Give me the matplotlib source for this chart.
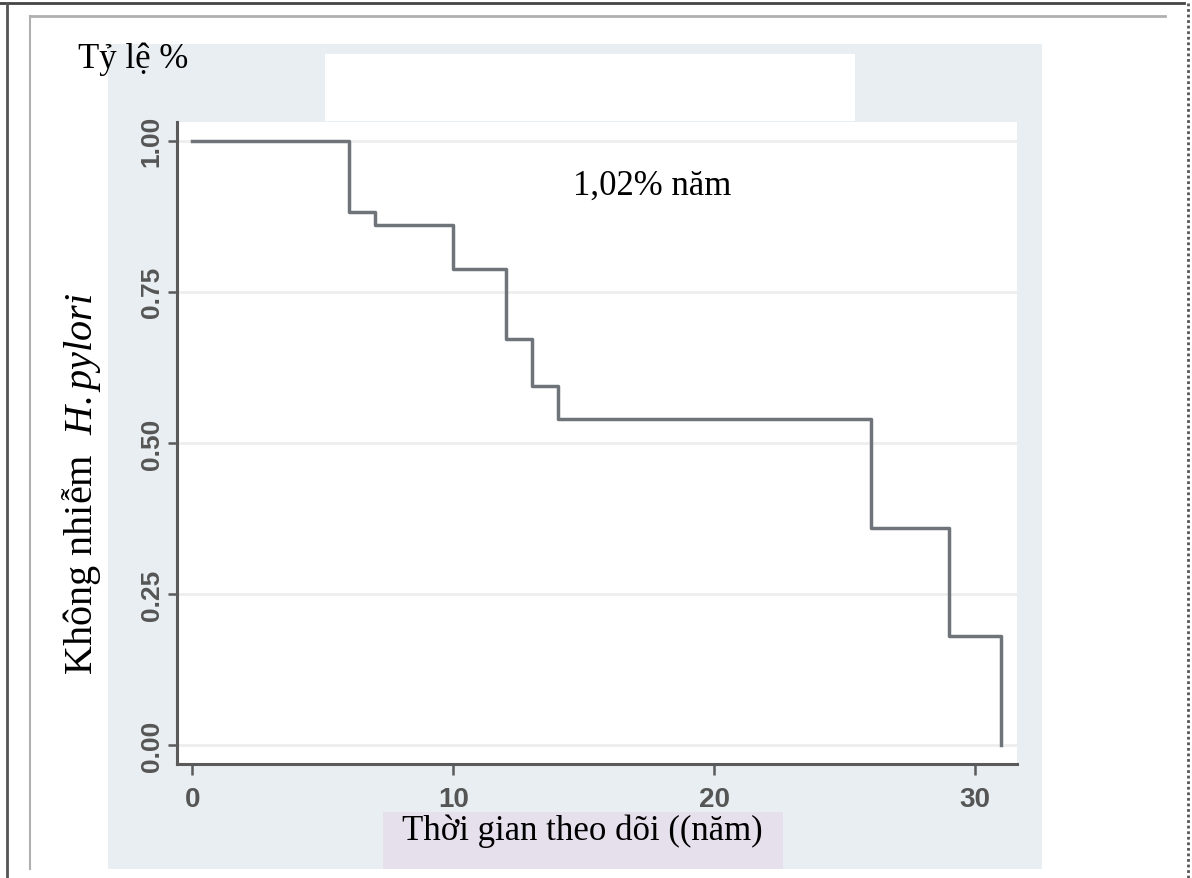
import matplotlib
matplotlib.use('Agg')
import matplotlib.pyplot as plt
import matplotlib.patches as mpatches
from matplotlib.lines import Line2D

# Kaplan-Meier style curve
TIMES = [0, 6, 7, 10, 12, 13, 14, 26, 29, 31]
SURV = [1.00, 0.882, 0.861, 0.788, 0.672, 0.594, 0.540, 0.360, 0.180, 0.00]

X_TICKS = [0, 10, 20, 30]
Y_TICKS = [0.00, 0.25, 0.50, 0.75, 1.00]
Y_TICK_LABELS = ['0.00', '0.25', '0.50', '0.75', '1.00']

TITLE_LEFT = 'Tỷ lệ %'
RATE_TEXT = '1,02% năm'
X_LABEL = 'Thời gian theo dõi ((năm)'
Y_LABEL = r'Không nhiễm  $\mathit{H.pylori}$'

W, H = 1192, 879
SERIF = 'Liberation Serif'
TICK_FONT = 'Liberation Sans'


def fx(px):
    return px / W


def fy(py):
    return 1 - py / H


def rect(fig, x0, y0, x1, y1, color, z=0):
    fig.add_artist(mpatches.Rectangle(
        (fx(x0), fy(y1)), fx(x1) - fx(x0), fy(y0) - fy(y1),
        transform=fig.transFigure, facecolor=color, edgecolor='none', zorder=z))


def line(fig, x0, y0, x1, y1, color, lw, ls='-'):
    fig.add_artist(Line2D([fx(x0), fx(x1)], [fy(y0), fy(y1)],
                          transform=fig.transFigure, color=color, lw=lw, ls=ls))


plt.rcParams['mathtext.fontset'] = 'custom'
plt.rcParams['mathtext.it'] = 'Liberation Serif:italic'
plt.rcParams['mathtext.rm'] = 'Liberation Serif'

fig = plt.figure(figsize=(W / 100, H / 100), dpi=100, facecolor='white')

# page frame
line(fig, 0, 4, 1184, 4, '#444444', 2.0)
line(fig, 7, 4, 7, 879, '#555555', 2.0)
line(fig, 1188, 4, 1188, 879, '#555555', 2.0, ls=(0, (1, 1)))
line(fig, 30, 17, 1165, 17, '#b0b0b0', 2.0)
line(fig, 30, 17, 30, 870, '#b0b0b0', 1.5)

# backgrounds
rect(fig, 108, 45, 1042, 870, '#e8eef1', z=0)
rect(fig, 325, 55, 855, 122, 'white', z=0.5)

ax = fig.add_axes([fx(177), fy(765), fx(1017) - fx(177), fy(123) - fy(765)])
ax.set_facecolor('white')

ax.step(TIMES, SURV, where='post', color='#6e747a', lw=2.5, zorder=3)

ax.set_xlim(-0.59, 31.6)
ax.set_ylim(-0.031, 1.031)

ax.set_yticks(Y_TICKS)
ax.set_yticklabels(Y_TICK_LABELS, rotation=90, va='center',
                   family=TICK_FONT, fontsize=19, fontweight='bold',
                   color='#555555')
ax.set_xticks(X_TICKS)
ax.set_xticklabels([str(t) for t in X_TICKS],
                   family=TICK_FONT, fontsize=20, fontweight='bold',
                   color='#555555')

ax.yaxis.grid(True, color='#eeeeee', lw=2)
ax.set_axisbelow(True)

for side in ['top', 'right']:
    ax.spines[side].set_visible(False)
for side in ['left', 'bottom']:
    ax.spines[side].set_color('#5a5a5a')
    ax.spines[side].set_linewidth(2.2)

ax.tick_params(axis='x', length=8, width=1.8, color='#5a5a5a', pad=8)
ax.tick_params(axis='y', length=6.5, width=1.8, color='#5a5a5a', pad=3)

# lavender box behind x-axis title
rect(fig, 383, 813, 783, 870, '#e5e0ec', z=1)

fig.text(fx(78), fy(68), TITLE_LEFT, family=SERIF, fontsize=25,
         va='baseline', ha='left', zorder=5)
fig.text(fx(652), fy(195), RATE_TEXT, family=SERIF, fontsize=25,
         va='baseline', ha='center', zorder=5)
fig.text(fx(402), fy(840), X_LABEL, family=SERIF, fontsize=25,
         va='baseline', ha='left', zorder=5)
fig.text(fx(82), fy(484), Y_LABEL, family=SERIF, fontsize=29,
         rotation=90, va='center', ha='center', zorder=5)

fig.savefig('out.png', dpi=100, facecolor='white')
